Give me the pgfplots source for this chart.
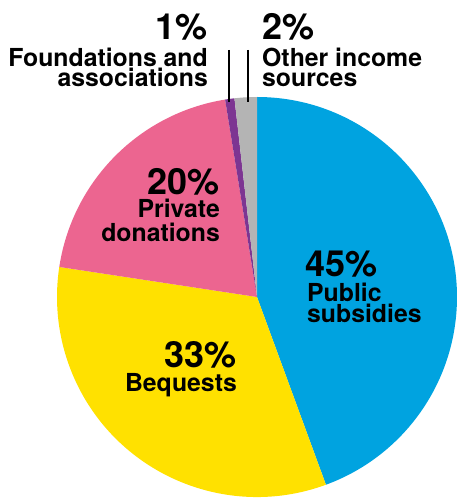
\documentclass[border=0pt]{standalone}
\usepackage{pgfplots}
\usepackage{pgfplotstable}
\pgfplotsset{compat=1.18}
\usepackage{fontspec}
\setmainfont{TeX Gyre Heros}
\definecolor{cblue}{RGB}{0,163,224}
\definecolor{cyellow}{RGB}{255,225,0}
\definecolor{cpink}{RGB}{236,101,144}
\definecolor{cpurple}{RGB}{125,53,146}
\definecolor{cgray}{RGB}{180,180,180}
\pgfplotstableread{
share color
44.4 cblue
33.0 cyellow
20.05 cpink
0.75 cpurple
1.8 cgray
}\piedata
\newcommand\pct{\fontsize{36}{36}\selectfont\bfseries}
\newcommand\lbl{\fontsize{24.8}{21}\selectfont\bfseries}
\begin{document}
\begin{tikzpicture}
\begin{axis}[x=1pt, y=1pt, xmin=0, xmax=457, ymin=0, ymax=498, hide axis, anchor=origin, at={(0,0)}]
\pgfplotstablegetrowsof{\piedata}
\pgfmathtruncatemacro\nrows{\pgfplotsretval-1}
\gdef\cumangle{90}
\pgfplotsforeachungrouped \i in {0,...,\nrows}{%
  \pgfplotstablegetelem{\i}{share}\of\piedata \let\sh\pgfplotsretval
  \pgfplotstablegetelem{\i}{color}\of\piedata \let\col\pgfplotsretval
  \pgfmathsetmacro\endangle{\cumangle-3.6*\sh}%
  \edef\temp{\noexpand\fill[\col] (axis cs:257,201) -- ++(\cumangle:200pt) arc[start angle=\cumangle, end angle=\endangle, radius=200pt] -- cycle;}%
  \temp
  \global\let\cumangle\endangle
}
\addplot[black, line width=1.8pt] coordinates {(229,448) (229,396)};
\addplot[black, line width=1.8pt] coordinates {(248,448) (248,396)};
\node[anchor=base west, inner sep=0pt] at (axis cs:305,221) {\pct 45\%};
\node[anchor=base west, inner sep=0pt] at (axis cs:307,196) {\lbl Public};
\node[anchor=base west, inner sep=0pt] at (axis cs:307,175) {\lbl subsidies};
\node[anchor=base east, inner sep=0pt] at (axis cs:220,303) {\pct 20\%};
\node[anchor=base east, inner sep=0pt] at (axis cs:220,280) {\lbl Private};
\node[anchor=base east, inner sep=0pt] at (axis cs:220,256) {\lbl donations};
\node[anchor=base east, inner sep=0pt] at (axis cs:237,130) {\pct 33\%};
\node[anchor=base east, inner sep=0pt] at (axis cs:237,106) {\lbl Bequests};
\node[anchor=base east, inner sep=0pt] at (axis cs:208,458) {\pct 1\%};
\node[anchor=base east, inner sep=0pt] at (axis cs:208,431) {\lbl Foundations and};
\node[anchor=base east, inner sep=0pt] at (axis cs:208,411) {\lbl associations};
\node[anchor=base west, inner sep=0pt] at (axis cs:262,458) {\pct 2\%};
\node[anchor=base west, inner sep=0pt] at (axis cs:262,431) {\lbl Other income};
\node[anchor=base west, inner sep=0pt] at (axis cs:262,411) {\lbl sources};
\end{axis}
\pgfresetboundingbox
\useasboundingbox (0,0) rectangle (457pt,498pt);
\end{tikzpicture}
\end{document}
